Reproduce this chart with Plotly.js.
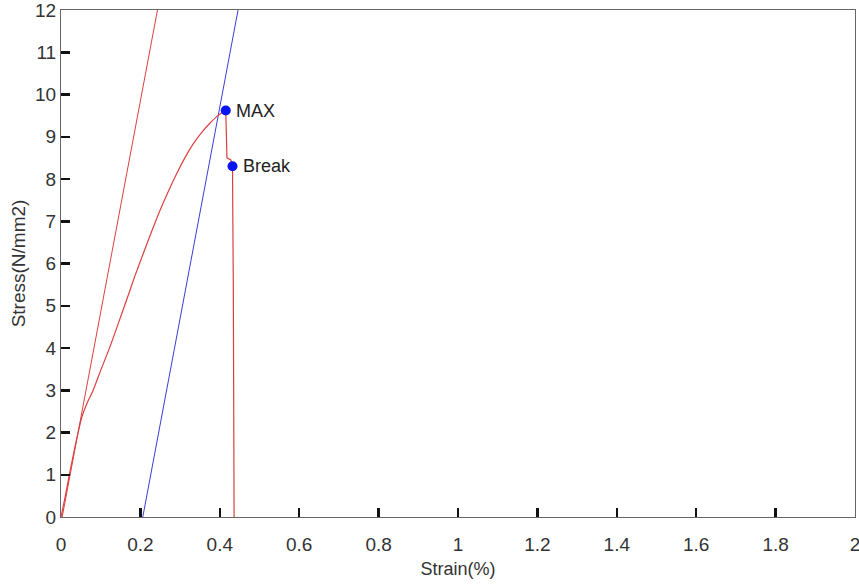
<!DOCTYPE html>
<html>
<head>
<meta charset="utf-8">
<script src="https://cdn.plot.ly/plotly-3.0.1.min.js"></script>
<style>html,body{margin:0;padding:0;background:#fff;}#chart{width:859px;height:587px;}</style>
</head>
<body>
<div id="chart"></div>
<script>
// Stress-strain curve, rising part (measured)
const riseStrain = [0, 0.01, 0.02, 0.03, 0.04, 0.052, 0.065, 0.081, 0.10, 0.123, 0.145, 0.165, 0.186, 0.207, 0.228, 0.249, 0.27, 0.291, 0.312, 0.333, 0.354, 0.375, 0.395, 0.415];
const riseStress = [0, 0.45, 0.95, 1.42, 1.87, 2.35, 2.68, 3.0, 3.47, 4.02, 4.6, 5.13, 5.7, 6.23, 6.75, 7.25, 7.7, 8.12, 8.5, 8.83, 9.1, 9.32, 9.5, 9.62];
// Post-peak drop to break and fracture
const dropStrain = [0.415, 0.418, 0.428, 0.432, 0.434, 0.435, 0.436];
const dropStress = [9.62, 8.5, 8.45, 8.3, 5.5, 3.0, 0];
// Elastic modulus line (red) and 0.2% offset line (blue)
const modulusStrain = [0.003, 0.243];
const modulusStress = [0, 12];
const offsetStrain = [0.206, 0.446];
const offsetStress = [0, 12];
// Marked points
const pointLabels = ["MAX", "Break"];
const pointStrain = [0.415, 0.432];
const pointStress = [9.62, 8.3];
const xTicks = [0, 0.2, 0.4, 0.6, 0.8, 1, 1.2, 1.4, 1.6, 1.8, 2];
const yTicks = [0, 1, 2, 3, 4, 5, 6, 7, 8, 9, 10, 11, 12];

const red = "#d9413f";
const blue = "#3b3bd9";

const traces = [
  {x: modulusStrain, y: modulusStress, mode: "lines", line: {color: red, width: 1}, hoverinfo: "skip"},
  {x: offsetStrain, y: offsetStress, mode: "lines", line: {color: blue, width: 1}, hoverinfo: "skip"},
  {x: riseStrain, y: riseStress, mode: "lines", line: {color: red, width: 1.2, shape: "spline", smoothing: 0.6}},
  {x: dropStrain, y: dropStress, mode: "lines", line: {color: red, width: 1.2}},
  {x: pointStrain, y: pointStress, mode: "markers", marker: {color: "#0a14f0", size: 10}}
];

const annotations = pointLabels.map((t, i) => ({
  x: pointStrain[i], y: pointStress[i], text: t, showarrow: false,
  xanchor: "left", yanchor: "middle", xshift: 8,
  font: {family: "Liberation Sans, Arial, sans-serif", size: 18, color: "#222"}
}));

const layout = {
  width: 859, height: 587,
  margin: {l: 61, r: 4, t: 10, b: 70},
  paper_bgcolor: "#fff", plot_bgcolor: "#fff",
  showlegend: false,
  font: {family: "Liberation Sans, Arial, sans-serif", size: 19, color: "#333"},
  xaxis: {
    range: [0, 2], tickvals: xTicks, ticktext: xTicks.map(String),
    ticks: "inside", ticklen: 9, tickwidth: 2.5, tickcolor: "#111",
    ticklabelstandoff: 10, ticklabeloverflow: "allow",
    showline: true, linecolor: "#666", linewidth: 1, mirror: true,
    showgrid: false, zeroline: false,
    title: {text: "Strain(%)", font: {size: 18, color: "#333"}, standoff: 8}
  },
  yaxis: {
    range: [0, 12], tickvals: yTicks, ticktext: yTicks.map(String),
    ticks: "inside", ticklen: 9, tickwidth: 2.5, tickcolor: "#111",
    ticklabeloverflow: "allow",
    showline: true, linecolor: "#666", linewidth: 1, mirror: true,
    showgrid: false, zeroline: false,
    title: {text: "Stress(N/mm2)", font: {size: 19, color: "#333"}, standoff: 4}
  },
  annotations: annotations
};

Plotly.newPlot("chart", traces, layout, {displayModeBar: false, staticPlot: true});
</script>
</body>
</html>
